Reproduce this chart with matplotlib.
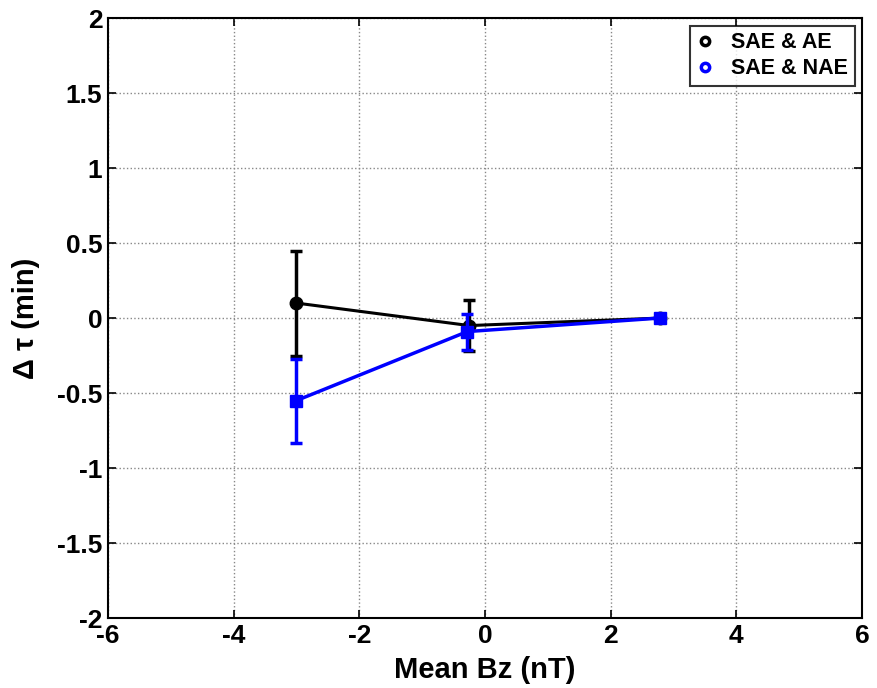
import matplotlib
matplotlib.use("Agg")
import matplotlib.pyplot as plt
from matplotlib.lines import Line2D

plt.rcParams['font.family'] = ['Liberation Sans', 'DejaVu Sans']
plt.rcParams['font.weight'] = 'bold'
plt.rcParams['axes.unicode_minus'] = False

bz_ae = [-3.0, -0.25, 2.78]
dt_ae = [0.10, -0.05, 0.0]
err_ae = [0.35, 0.17, 0.0]

bz_nae = [-3.0, -0.28, 2.78]
dt_nae = [-0.55, -0.09, 0.0]
err_nae = [0.28, 0.12, 0.0]

labels = ['SAE & AE', 'SAE & NAE']

fig = plt.figure(figsize=(8.77, 6.88), dpi=100)
ax = fig.add_axes([0.123, 0.1017, 0.860, 0.872])

ax.errorbar(bz_ae, dt_ae, yerr=err_ae, color='black', marker='o', ms=9,
            lw=2.2, elinewidth=2.5, capsize=4, capthick=2.5, zorder=3)
ax.errorbar(bz_nae, dt_nae, yerr=err_nae, color='blue', marker='s', ms=8.5,
            lw=2.5, elinewidth=2.5, capsize=4, capthick=2.5, zorder=4)

ax.set_xlim(-6, 6)
ax.set_ylim(-2, 2)
ax.set_xticks(range(-6, 7, 2))
ax.set_yticks([-2, -1.5, -1, -0.5, 0, 0.5, 1, 1.5, 2])
ax.set_yticklabels(['-2', '-1.5', '-1', '-0.5', '0', '0.5', '1', '1.5', '2'])
ax.grid(True, linestyle=':', color='#888888', lw=1)
ax.tick_params(labelsize=19, direction='in', length=6, width=1.2, top=True, right=True, pad=4)
for lab in ax.get_xticklabels() + ax.get_yticklabels():
    lab.set_fontweight('bold')
for s in ax.spines.values():
    s.set_linewidth(1.5)

ax.set_xlabel('Mean Bz (nT)', fontsize=21, fontweight='bold', labelpad=6)
ax.set_ylabel('Δ τ (min)', fontsize=21, fontweight='bold', labelpad=12)

handles = [Line2D([], [], color='black', marker='o', ls='none', ms=6, mfc='none', mew=2.5),
           Line2D([], [], color='blue', marker='o', ls='none', ms=6, mfc='none', mew=2.5)]
leg = ax.legend(handles, labels, loc='upper right', fontsize=15.5, frameon=True,
                fancybox=False, edgecolor='black', borderaxespad=0.35,
                handletextpad=0.8, handlelength=0.8, borderpad=0.3, labelspacing=0.25)
leg.get_frame().set_linewidth(1.5)
for t in leg.get_texts():
    t.set_fontweight('bold')

fig.savefig('out.png', dpi=100)
